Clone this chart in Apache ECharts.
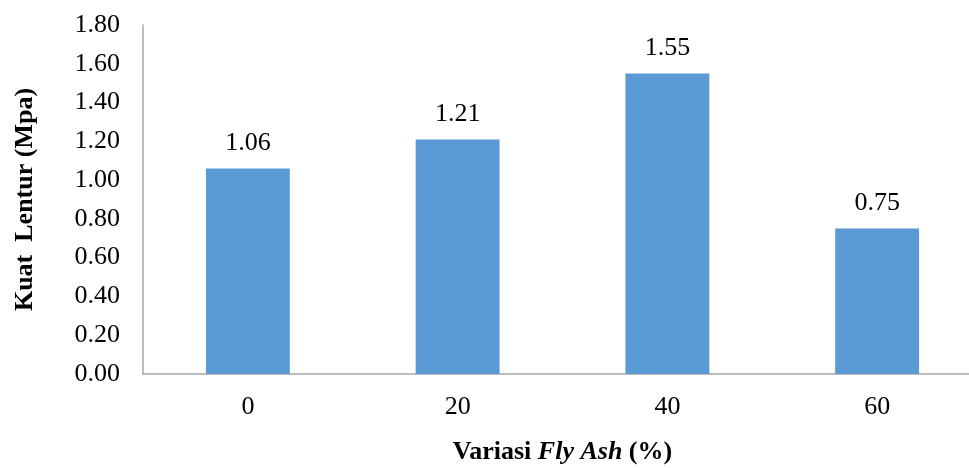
<!DOCTYPE html>
<html>
<head>
<meta charset="utf-8">
<script src="https://cdn.jsdelivr.net/npm/echarts@6/dist/echarts.min.js"></script>
<style>html,body{margin:0;padding:0;background:#fff}#c{width:969px;height:468px}</style>
</head>
<body>
<div id="c"></div>
<script>
const categories = ['0', '20', '40', '60'];
const values = [1.06, 1.21, 1.55, 0.75];
const yTicks = ['0.00','0.20','0.40','0.60','0.80','1.00','1.20','1.40','1.60','1.80'];

const font = '"Liberation Serif", "Times New Roman", serif';
const chart = echarts.init(document.getElementById('c'), null, {renderer: 'canvas'});
chart.setOption({
  animation: false,
  backgroundColor: '#fff',
  grid: {left: 143, right: -13, top: 25, bottom: 94, containLabel: false, outerBoundsMode: 'none'},
  xAxis: {
    type: 'category',
    data: categories,
    axisLine: {lineStyle: {color: '#a6a6a6', width: 1.5}},
    axisTick: {show: false},
    axisLabel: {fontFamily: font, fontSize: 26, color: '#000', margin: 20},
    name: '{b|Variasi }{bi|Fly Ash}{b| (%)}',
    nameLocation: 'middle',
    nameGap: 65,
    nameTextStyle: {
      rich: {
        b: {fontFamily: font, fontSize: 26, fontWeight: 'bold', color: '#000'},
        bi: {fontFamily: font, fontSize: 26, fontWeight: 'bold', fontStyle: 'italic', color: '#000'}
      }
    }
  },
  yAxis: {
    type: 'value',
    min: 0, max: 1.8, interval: 0.2,
    axisLine: {show: true, lineStyle: {color: '#a6a6a6', width: 1.5}},
    axisTick: {show: false},
    splitLine: {show: false},
    axisLabel: {fontFamily: font, fontSize: 26, color: '#000', margin: 23,
      formatter: (v) => yTicks[Math.round(v / 0.2)]},
    name: 'Kuat  Lentur (Mpa)',
    nameLocation: 'middle',
    nameGap: 105,
    nameTextStyle: {fontFamily: font, fontSize: 26, fontWeight: 'bold', color: '#000'}
  },
  series: [{
    type: 'bar',
    data: values,
    barWidth: '40%',
    itemStyle: {color: '#5b9bd5'},
    label: {show: true, position: 'top', distance: 12, fontFamily: font, fontSize: 26, color: '#000',
      formatter: (p) => p.value.toFixed(2)}
  }]
});
</script>
</body>
</html>
